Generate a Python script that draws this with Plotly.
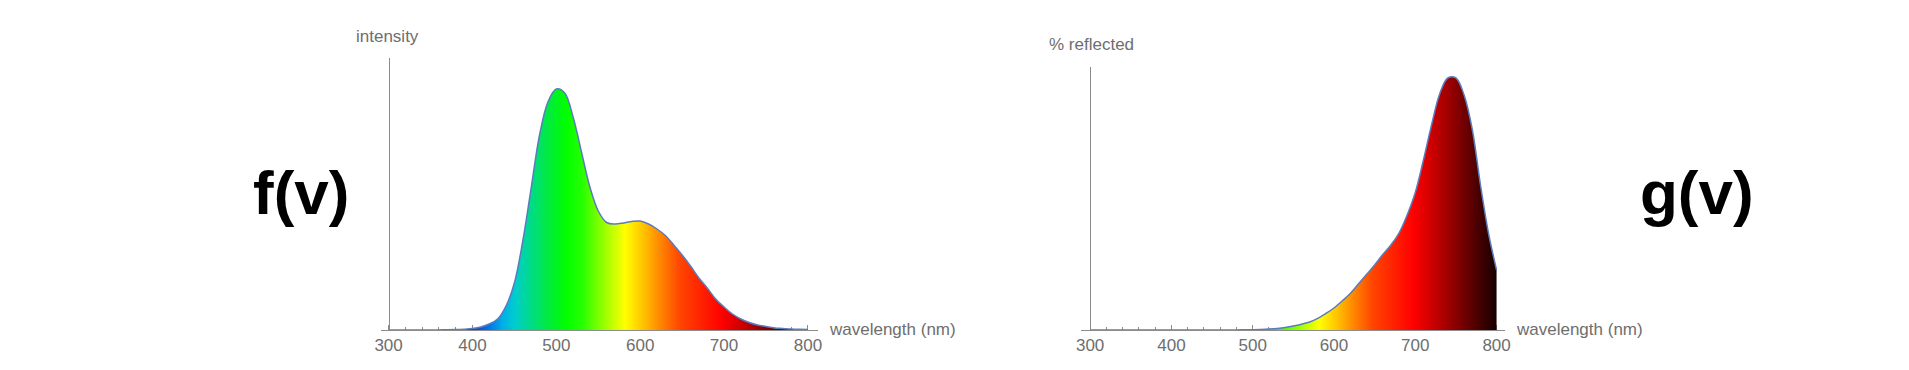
import plotly.graph_objects as go

# ---- data -------------------------------------------------------------
wavelength = [300, 310, 320, 330, 340, 350, 360, 370, 380, 390,
              400, 410, 420, 430, 440, 450, 460, 470, 480, 490,
              500, 510, 520, 530, 540, 550, 560, 570, 580, 590,
              600, 610, 620, 630, 640, 650, 660, 670, 680, 690,
              700, 710, 720, 730, 740, 750, 760, 770, 780, 790, 800]

# light source intensity f(v) (arbitrary units)
intensity = [0, 0, 0, 0, 0, 0, 0.1, 0.2, 0.4, 0.8,
             1.5, 3, 6, 11, 24, 47, 89, 142, 195, 228,
             241, 237, 213, 178, 143, 119, 107.5, 106, 107, 108.5,
             109, 106, 101, 94.5, 85, 75, 64, 52, 42, 31,
             23, 16, 11, 7.5, 5, 3.5, 2, 1.5, 1, 0.7, 0.5]

# surface reflectance g(v) (arbitrary units)
reflected = [0, 0, 0, 0, 0, 0, 0, 0, 0, 0,
             0, 0, 0, 0, 0, 0, 0.1, 0.1, 0.1, 0.2,
             0.3, 0.5, 0.9, 1.6, 2.6, 4, 5.8, 8, 11.6, 16.5,
             22, 29, 36.5, 46, 55.5, 65, 75.5, 85, 97, 115,
             137.5, 170, 205, 236, 252, 252, 235, 201, 146, 97, 60]

tick_vals = [300, 400, 500, 600, 700, 800]
tick_text = ["300", "400", "500", "600", "700", "800"]

# visible-spectrum colour mapping (wavelength -> colour)
spec_nm = [300, 380, 400, 420, 435, 450, 470, 490, 510, 530, 550, 580,
           600, 620, 645, 695, 720, 750, 780, 800]
spec_col = ["rgb(60,0,110)", "rgb(40,20,150)", "rgb(20,60,200)", "rgb(0,120,235)",
            "rgb(0,175,230)", "rgb(0,205,205)", "rgb(0,220,130)", "rgb(0,235,60)",
            "rgb(0,255,0)", "rgb(40,255,0)", "rgb(130,255,0)", "rgb(255,255,0)",
            "rgb(255,200,0)", "rgb(255,140,0)", "rgb(255,70,0)", "rgb(255,0,0)",
            "rgb(200,0,0)", "rgb(130,0,0)", "rgb(60,0,0)", "rgb(15,0,0)"]

# ---- styling ----------------------------------------------------------
W, H = 1909, 370
GREY_TXT = "#6e6e6e"
AXIS_COL = "#8c8c8c"
LINE_COL = "#5b7cbc"
FONT = "Liberation Sans, Arial, sans-serif"
BIG_FONT = "Liberation Sans, Arial, sans-serif"

colorscale = [[(n - spec_nm[0]) / (spec_nm[-1] - spec_nm[0]), c] for n, c in zip(spec_nm, spec_col)]

def px_x(p):
    return p / W

def px_y(p):
    return (H - p) / H

fig = go.Figure()

for ys, xa, ya in [(intensity, "x", "y"), (reflected, "x2", "y2")]:
    fig.add_trace(go.Scatter(
        x=wavelength, y=ys, xaxis=xa, yaxis=ya,
        mode="lines", line=dict(color=LINE_COL, width=1.5, shape="spline", smoothing=1.0),
        fill="tozeroy",
        fillgradient=dict(type="horizontal", colorscale=colorscale, start=300, stop=800),
        hoverinfo="skip", showlegend=False,
    ))

def xaxis_style(domain, rng):
    return dict(
        domain=domain, range=rng, showgrid=False, zeroline=False,
        showline=True, linecolor=AXIS_COL, linewidth=1,
        tickmode="array", tickvals=tick_vals, ticktext=tick_text,
        ticks="inside", ticklen=5, tickcolor=AXIS_COL, tickwidth=1,
        minor=dict(ticks="inside", ticklen=3, dtick=20, tick0=300, tickcolor=AXIS_COL, tickwidth=1),
        tickfont=dict(family=FONT, size=17, color=GREY_TXT),
        layer="below traces", fixedrange=True,
    )

def yaxis_style(domain, rng, pos):
    return dict(
        domain=domain, range=rng, anchor="free", position=pos,
        showgrid=False, zeroline=False, showticklabels=False, ticks="",
        showline=True, linecolor=AXIS_COL, linewidth=1,
        layer="below traces", fixedrange=True,
    )

fig.update_layout(
    width=W, height=H, autosize=False,
    margin=dict(l=0, r=0, t=0, b=0),
    paper_bgcolor="white", plot_bgcolor="white",
    xaxis=dict(**xaxis_style([px_x(377), px_x(817)], [300 - 8 / 0.844, 800 + 10 / 0.844]), anchor="y"),
    yaxis=yaxis_style([px_y(330), px_y(58)], [0, 272], px_x(385)),
    xaxis2=dict(**xaxis_style([px_x(1082), px_x(1508)], [300 - 9 / 0.818, 800 + 8 / 0.818]), anchor="y2"),
    yaxis2=yaxis_style([px_y(330), px_y(67)], [0, 263], px_x(1091)),
)

lab_font = dict(family=FONT, size=17, color=GREY_TXT)
big_font = dict(family=BIG_FONT, size=62, color="black")
annots = [
    dict(text="intensity", x=px_x(350), y=px_y(37), xanchor="left", yanchor="middle", font=lab_font),
    dict(text="% reflected", x=px_x(1048), y=px_y(44), xanchor="left", yanchor="middle", font=lab_font),
    dict(text="wavelength (nm)", x=px_x(826), y=px_y(329), xanchor="left", yanchor="middle", font=lab_font),
    dict(text="wavelength (nm)", x=px_x(1518), y=px_y(329), xanchor="left", yanchor="middle", font=lab_font),
    dict(text="<b>f(v)</b>", x=px_x(297), y=px_y(192), xanchor="center", yanchor="middle", font=big_font),
    dict(text="<b>g(v)</b>", x=px_x(1702), y=px_y(192), xanchor="center", yanchor="middle", font=big_font),
]
for a in annots:
    a.update(xref="paper", yref="paper", showarrow=False)
fig.update_layout(annotations=annots)

fig.write_html("out.html")
